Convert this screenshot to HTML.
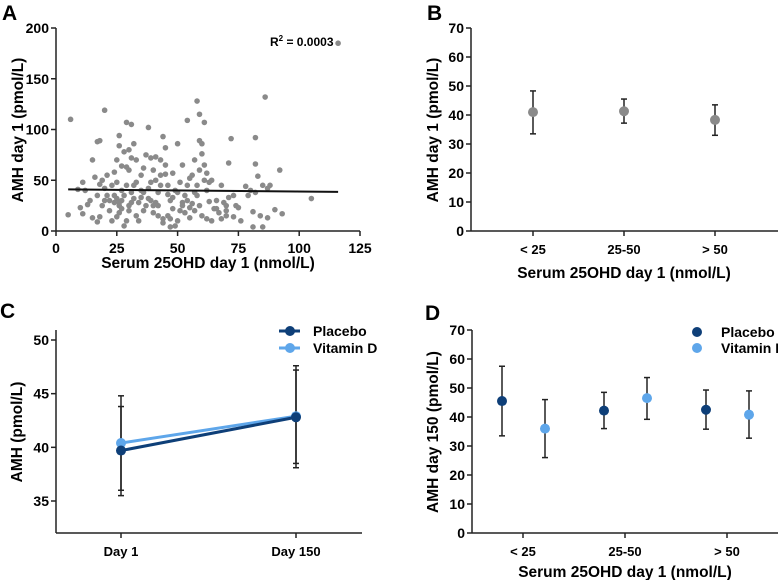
<!DOCTYPE html>
<html><head><meta charset="utf-8">
<style>
html,body{margin:0;padding:0;background:#fff;}
svg{display:block;font-family:"Liberation Sans",sans-serif;font-weight:bold;}
</style></head>
<body>
<svg id="fig" width="778" height="580" viewBox="0 0 778 580"></svg>
<script>
// Panel A data
const scatterX=[5,6,20,29,31,38,58,59,61,54,86,116,105,92,93,90,88,87,85,81,82,82,83,81,82,80,78,75,76,73,72,71,70,70,69,68,67,66,65,64,63,62,62,61,60,60,59,60,59,58,57,56,55,55,54,53,52,51,51,50,50,49,49,48,47,47,46,45,44,45,44,43,43,42,41,40,40,39,39,38,37,36,36,35,34,33,32,32,31,30,30,29,28,28,27,27,26,26,26,25,25,24,24,23,22,21,20,19,18,17,18,17,16,15,15,17,14,13,12,11,11,10,9,58,57,56,53,52,48,46,42,41,38,37,35,34,33,31,30,29,28,27,26,25,24,23,22,21,20,19,18,44,45,46,47,48,50,52,54,55,57,59,61,62,63,64,66,68,70,71,73,74,79,84,85,87,36,35,33,32,30,40,42,43,39,41,26,25,27,29,31];
const scatterY=[16,110,119,107,105,102,128,115,107,109,132,185,32,60,17,21,45,13,4,4,92,66,54,19,38,40,44,23,10,35,91,67,25,15,28,45,18,30,22,10,48,40,57,65,76,86,89,15,25,35,20,27,52,13,45,35,65,48,20,86,10,5,40,57,4,30,36,82,93,56,12,70,45,25,73,60,18,72,30,42,75,62,20,33,10,70,86,45,28,80,60,10,5,78,64,40,94,84,25,70,14,58,35,10,30,55,42,25,89,88,46,35,53,70,13,9,30,26,40,48,17,23,41,45,70,55,18,28,22,15,38,50,32,25,40,28,15,38,20,45,35,30,18,32,28,45,20,35,30,50,14,8,65,45,12,33,38,25,30,23,38,60,50,12,29,50,22,12,20,33,14,25,35,15,45,42,38,55,48,32,25,25,15,55,48,28,28,48,22,63,72];
const fitX=[5,116];
const fitY=[41,38.5];
// Panel B data
const bCats=["< 25","25-50","> 50"];
const bMean=[41,41.3,38.3];
const bLow=[33.5,37.2,33];
const bHigh=[48.3,45.5,43.5];
// Panel C data
const cCats=["Day 1","Day 150"];
const cPlacebo=[39.7,42.8];
const cPlaceboLow=[35.5,38.1];
const cPlaceboHigh=[44.8,47.6];
const cVitD=[40.4,42.9];
const cVitDLow=[36,38.5];
const cVitDHigh=[43.8,47.2];
// Panel D data
const dCats=["< 25","25-50","> 50"];
const dPlacebo=[45.5,42.2,42.5];
const dPlaceboLow=[33.5,36,35.8];
const dPlaceboHigh=[57.5,48.5,49.3];
const dVitD=[36,46.5,40.8];
const dVitDLow=[26,39.2,32.7];
const dVitDHigh=[46,53.6,49];
const ticksA_x=[0,25,50,75,100,125];
const ticksA_y=[0,50,100,150,200];
const ticks70=[0,10,20,30,40,50,60,70];
const ticksC=[35,40,45,50];

const NS="http://www.w3.org/2000/svg";
const svg=document.getElementById('fig');
function mk(tag,attrs,parent){const e=document.createElementNS(NS,tag);for(const k in attrs)e.setAttribute(k,attrs[k]);(parent||svg).appendChild(e);return e;}
function txt(s,attrs,parent){const e=mk('text',attrs,parent);e.textContent=s;return e;}
function lin(d0,d1,r0,r1){return v=>r0+(v-d0)/(d1-d0)*(r1-r0);}
const PL="#0e3f78",VD="#5ea6ea",GR="#8a8a8a";

function yAxis(g,x,yScale,ticks,top,bottom){
  const a=mk('line',{x1:x,y1:top,x2:x,y2:bottom,stroke:'#222','stroke-width':1.5},g);
  
  ticks.forEach(t=>{const y=yScale(t);
    mk('line',{x1:x-5,y1:y,x2:x,y2:y,stroke:'#222','stroke-width':1.5},g);
    const l=txt(String(t),{x:x-7,y:y+5,'text-anchor':'end','font-size':14},g);
    });
}
function xAxisLine(g,x0,x1,y){const a=mk('line',{x1:x0,y1:y,x2:x1,y2:y,stroke:'#222','stroke-width':1.5},g);
  }
function errBar(g,x,lo,hi){mk('line',{x1:x,y1:lo,x2:x,y2:hi,stroke:'#222','stroke-width':1.5},g);
  mk('line',{x1:x-3,y1:lo,x2:x+3,y2:lo,stroke:'#222','stroke-width':1.5},g);
  mk('line',{x1:x-3,y1:hi,x2:x+3,y2:hi,stroke:'#222','stroke-width':1.5},g);}
function title(g,s,x,y,rot,name){const t=txt(s,{x:x,y:y,'text-anchor':'middle','font-size':15.5,transform:rot?`rotate(-90 ${x} ${y})`:''},g);
  }
function letter(s,x,y){const t=txt(s,{x:x,y:y,'font-size':21},svg);}

// ---- Panel A
const gA=mk('g',{});
const ax=lin(0,125,56,360), ay=lin(0,200,231,28);
scatterX.forEach((v,i)=>{const c=mk('circle',{cx:ax(v),cy:ay(scatterY[i]),r:2.8,fill:GR},gA);
  });
const fl=mk('line',{x1:ax(fitX[0]),y1:ay(fitY[0]),x2:ax(fitX[1]),y2:ay(fitY[1]),stroke:'#111','stroke-width':2},gA);

xAxisLine(gA,56,360,231);
ticksA_x.forEach(t=>{const x=ax(t);mk('line',{x1:x,y1:231,x2:x,y2:236,stroke:'#222','stroke-width':1.5},gA);
  const l=txt(String(t),{x:x,y:253,'text-anchor':'middle','font-size':14},gA);});
yAxis(gA,56,ay,ticksA_y,28,231);
const r2=txt('',{x:270,y:46,'font-size':12},gA);r2.innerHTML='R<tspan dy="-5" font-size="8">2</tspan><tspan dy="5"> = 0.0003</tspan>';

title(gA,'AMH day 1 (pmol/L)',23,130,true,'y-axis-title');
title(gA,'Serum 25OHD day 1 (nmol/L)',208,268,false,'x-axis-title');
letter('A',2,20);

// ---- Panel B
const gB=mk('g',{});
const by=lin(0,70,231,28);const bx=i=>533+i*91;
xAxisLine(gB,471,778,231);
bCats.forEach((c,i)=>{mk('line',{x1:bx(i),y1:231,x2:bx(i),y2:236,stroke:'#222','stroke-width':1.5},gB);
  const l=txt(c,{x:bx(i),y:254,'text-anchor':'middle','font-size':13},gB);
  errBar(gB,bx(i),by(bLow[i]),by(bHigh[i]));
  const p=mk('circle',{cx:bx(i),cy:by(bMean[i]),r:5,fill:GR},gB);});
yAxis(gB,471,by,ticks70,28,231);
title(gB,'AMH day 1 (pmol/L)',438,130,true,'y-axis-title');
title(gB,'Serum 25OHD day 1 (nmol/L)',624,278,false,'x-axis-title');
letter('B',427,20);

// ---- Panel C
const gC=mk('g',{});
const cy=lin(35,50,501,340);const cx=i=>121+i*175;
xAxisLine(gC,56,362,533);
yAxis(gC,56,cy,ticksC,330,533);
cCats.forEach((c,i)=>{mk('line',{x1:cx(i),y1:533,x2:cx(i),y2:538,stroke:'#222','stroke-width':1.5},gC);
  const l=txt(c,{x:cx(i),y:556,'text-anchor':'middle','font-size':13},gC);
  errBar(gC,cx(i),cy(cPlaceboLow[i]),cy(cPlaceboHigh[i]));errBar(gC,cx(i),cy(cVitDLow[i]),cy(cVitDHigh[i]));});
[[cVitD,VD,'vitamin-d'],[cPlacebo,PL,'placebo']].forEach(([arr,col,n])=>{
  const pl=mk('polyline',{points:arr.map((v,i)=>cx(i)+','+cy(v)).join(' '),fill:'none',stroke:col,'stroke-width':3},gC);
  
  arr.forEach((v,i)=>{const p=mk('circle',{cx:cx(i),cy:cy(v),r:5,fill:col},gC);});});
[[PL,'Placebo',331],[VD,'Vitamin D',348]].forEach(([col,s,y])=>{const lg=mk('g',{},gC);
  
  mk('line',{x1:279,y1:y,x2:300,y2:y,stroke:col,'stroke-width':3},lg);mk('circle',{cx:290,cy:y,r:5,fill:col},lg);
  txt(s,{x:313,y:y+5,'font-size':14},lg);});
title(gC,'AMH (pmol/L)',22,432,true,'y-axis-title');
letter('C',0,318);

// ---- Panel D
const gD=mk('g',{});
const dy=lin(0,70,533,330);const dx=i=>523+i*102;
xAxisLine(gD,472,778,533);
yAxis(gD,472,dy,ticks70,330,533);
dCats.forEach((c,i)=>{mk('line',{x1:dx(i),y1:533,x2:dx(i),y2:538,stroke:'#222','stroke-width':1.5},gD);
  const l=txt(c,{x:dx(i),y:556,'text-anchor':'middle','font-size':13},gD);
  errBar(gD,dx(i)-21,dy(dPlaceboLow[i]),dy(dPlaceboHigh[i]));errBar(gD,dx(i)+22,dy(dVitDLow[i]),dy(dVitDHigh[i]));
  const p=mk('circle',{cx:dx(i)-21,cy:dy(dPlacebo[i]),r:5,fill:PL},gD);
  const q=mk('circle',{cx:dx(i)+22,cy:dy(dVitD[i]),r:5,fill:VD},gD);});
[[PL,'Placebo',332],[VD,'Vitamin D',348]].forEach(([col,s,y])=>{const lg=mk('g',{},gD);
  
  mk('circle',{cx:697,cy:y,r:5,fill:col},lg);txt(s,{x:721,y:y+5,'font-size':14},lg);});
title(gD,'AMH day 150 (pmol/L)',438,432,true,'y-axis-title');
title(gD,'Serum 25OHD day 1 (nmol/L)',625,577,false,'x-axis-title');
letter('D',425,320);
</script>
</body></html>
